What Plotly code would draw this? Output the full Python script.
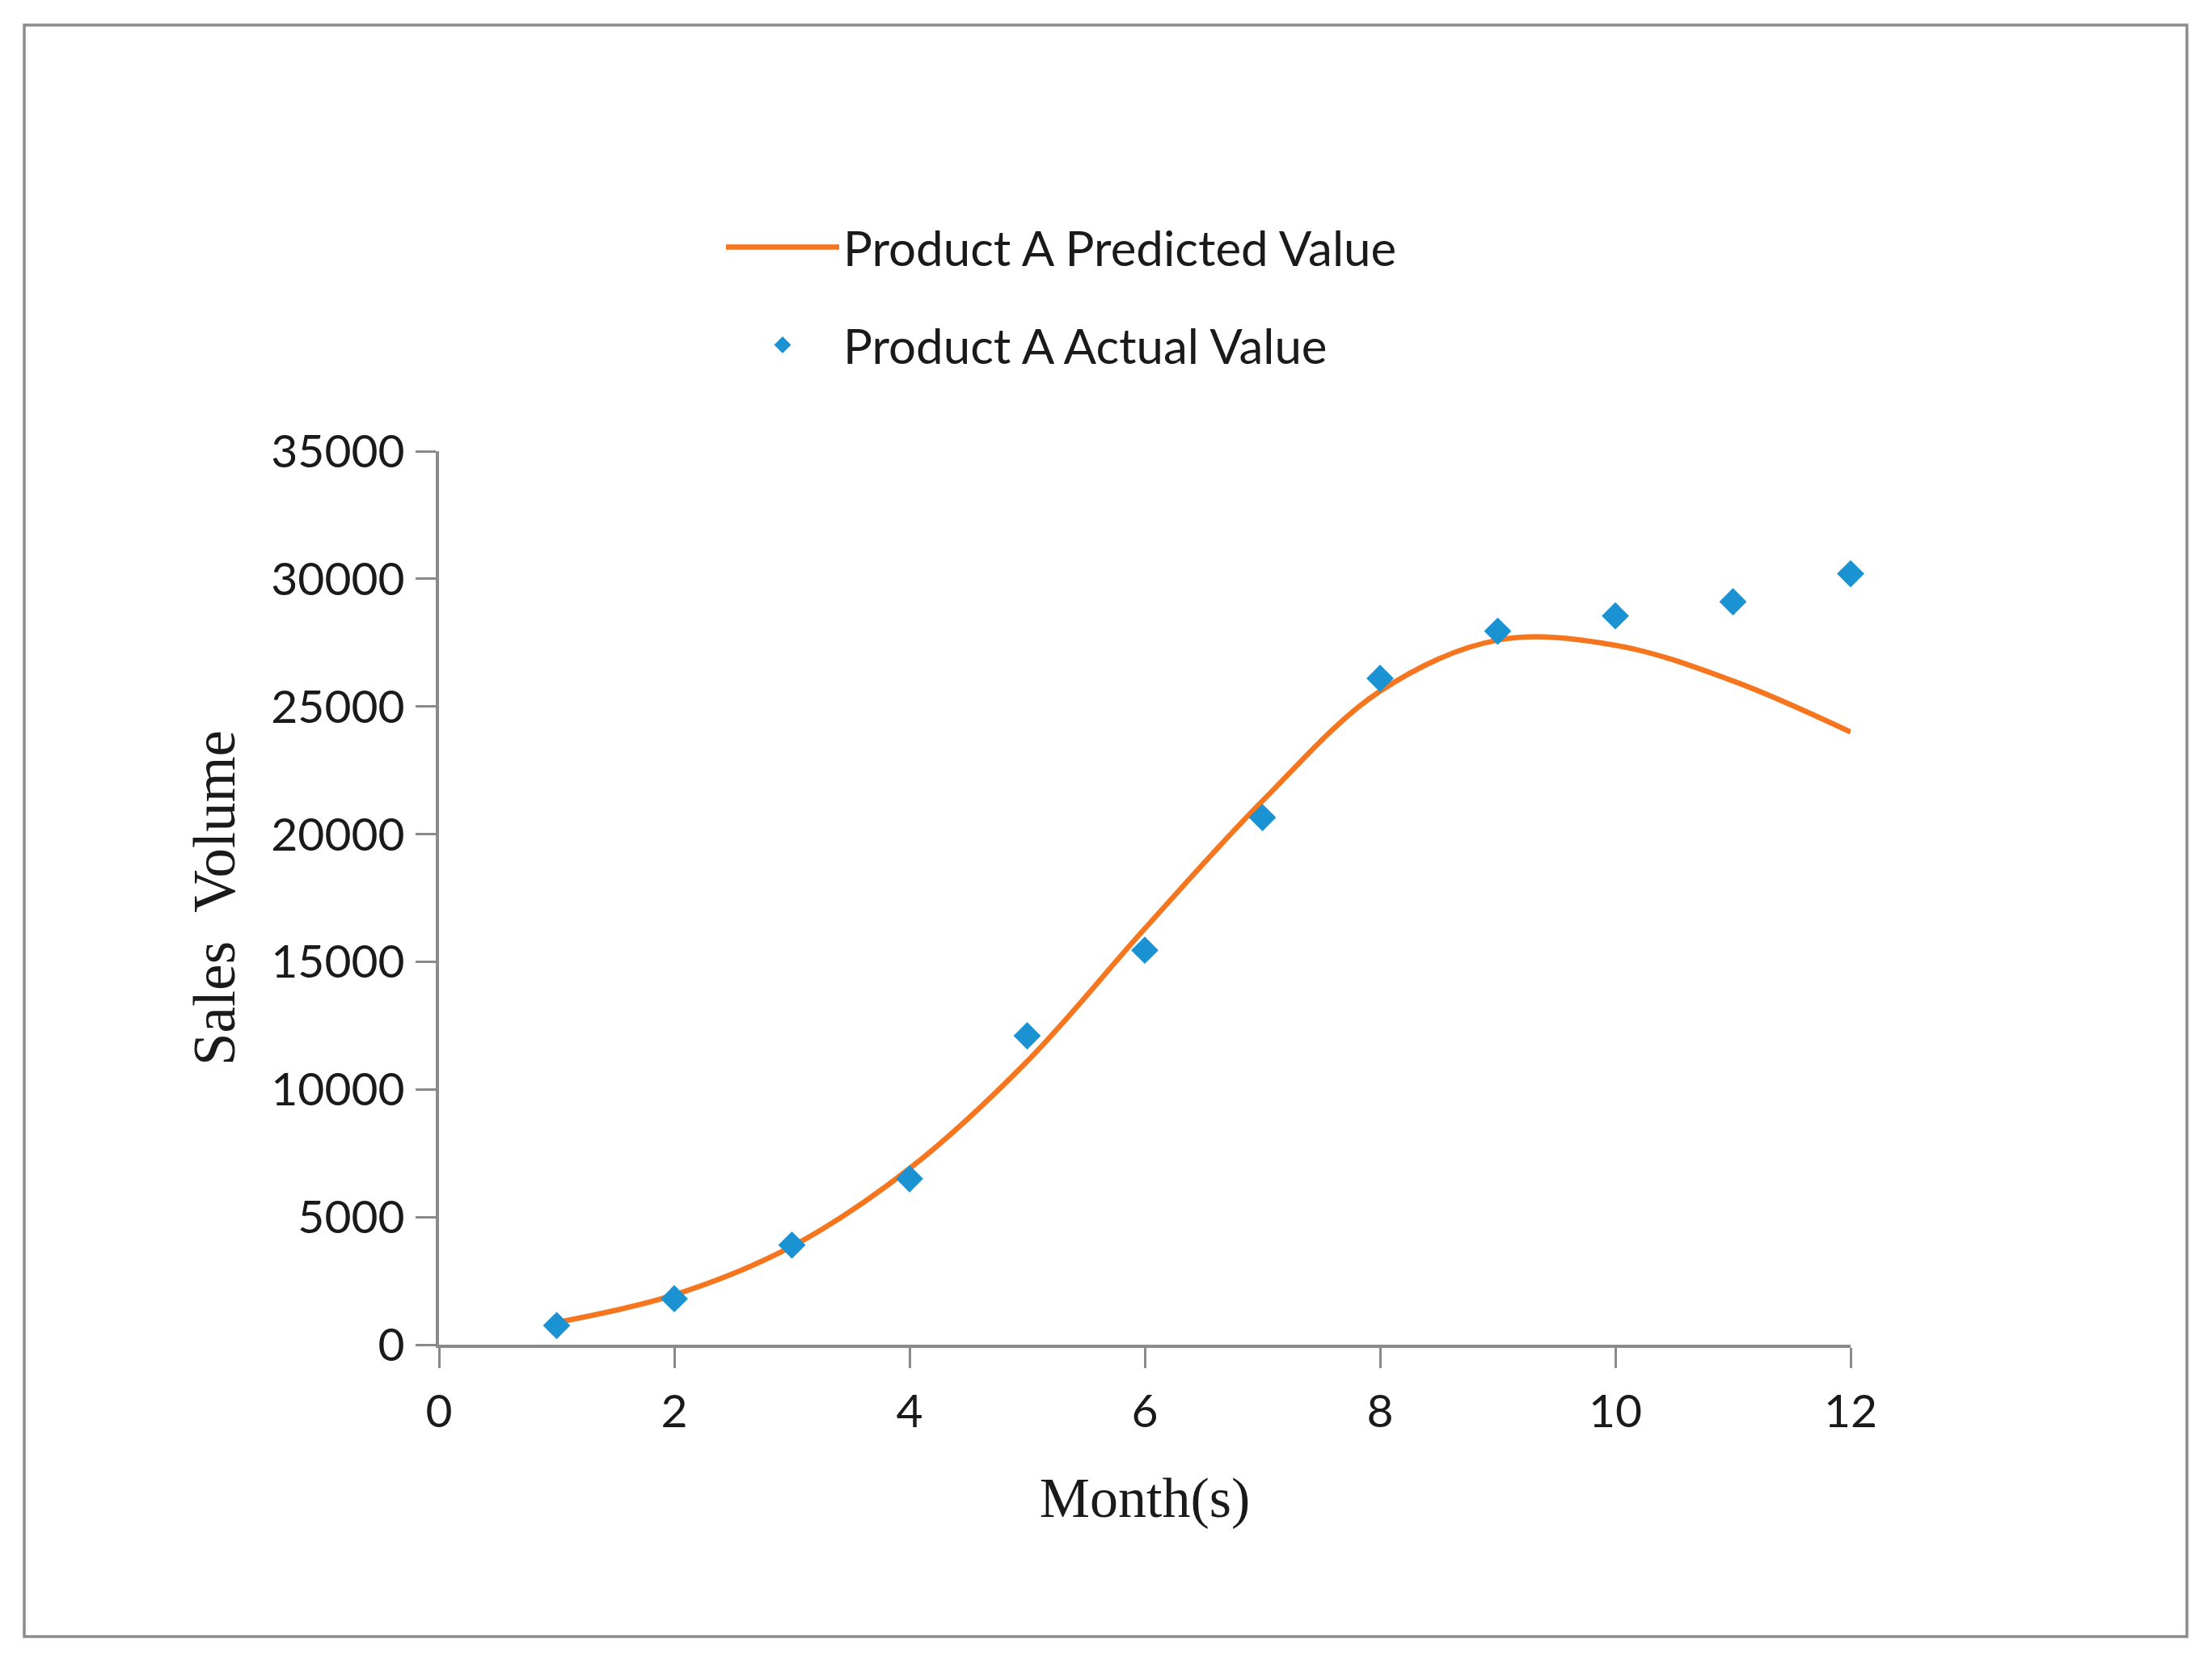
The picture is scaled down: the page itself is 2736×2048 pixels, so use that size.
#!/usr/bin/env python3
# -*- coding:utf-8 -*-

import plotly.graph_objects as go


# month numbers
MONTHS          = [1, 2, 3, 4, 5, 6, 7, 8, 9, 10, 11, 12]
# sales volumes
PREDICTED_SALES = [870, 1950, 3850, 6900, 11100, 16300, 21300, 25600, 27600, 27400, 26000, 24000]
ACTUAL_SALES    = [750, 1800, 3900, 6500, 12100, 15450, 20650, 26100, 27950, 28550, 29100, 30200]

X_TICKS = [0, 2, 4, 6, 8, 10, 12]
Y_TICKS = [0, 5000, 10000, 15000, 20000, 25000, 30000, 35000]

LINE_COLOR   = '#F5761E'
MARKER_COLOR = '#1B93D3'
AXIS_COLOR   = '#8A8A8A'
TEXT_COLOR   = '#1A1A1A'

SANS  = 'Lato, Carlito, Calibri, sans-serif'
SERIF = 'Liberation Serif, Times New Roman, serif'


def GenerateFigure() -> go.Figure:
	width, height = 2736, 2048
	# plot area in page pixels
	left, right, top, bottom = 543, 2289, 558, 1663
	plotW = right - left
	plotH = bottom - top

	fig = go.Figure()

	fig.add_trace(
		go.Scatter(
			x=MONTHS,
			y=PREDICTED_SALES,
			name='Product A Predicted Value',
			mode='lines',
			line=dict(color=LINE_COLOR, width=6.5, shape='spline', smoothing=1.0),
			legendgroup='pred',
		)
	)
	fig.add_trace(
		go.Scatter(
			x=MONTHS,
			y=ACTUAL_SALES,
			name='Product A Actual Value',
			mode='markers',
			marker=dict(symbol='diamond', size=26, color=MARKER_COLOR),
			legendgroup='act',
			cliponaxis=False,
		)
	)

	# frame round the whole chart, in paper units
	fx0 = (30 - left) / plotW
	fx1 = (2705 - left) / plotW
	fy0 = (bottom - 2024) / plotH
	fy1 = (bottom - 31) / plotH

	fig.update_layout(
		width=width,
		height=height,
		margin={ 'l': left, 'r': width - right, 't': top, 'b': height - bottom, 'pad': 0 },
		paper_bgcolor='white',
		plot_bgcolor='white',
		font=dict(family=SANS, size=57, color=TEXT_COLOR),
		showlegend=True,
		legend=dict(
			x=(893 - left) / plotW,
			xanchor='left',
			y=(bottom - 260) / plotH,
			yanchor='top',
			font=dict(family=SANS, size=60, color=TEXT_COLOR),
			itemwidth=140,
			tracegroupgap=40,
			bgcolor='rgba(0,0,0,0)',
		),
		shapes=[
			dict(
				type='rect', xref='paper', yref='paper',
				x0=fx0, x1=fx1, y0=fy0, y1=fy1,
				line=dict(color='#8C8C8C', width=3.5),
				fillcolor='rgba(0,0,0,0)',
				layer='below',
			),
		],
	)

	fig.update_xaxes(
		range=[0, 12],
		tickmode='array',
		tickvals=X_TICKS,
		ticks='outside',
		ticklen=25,
		tickwidth=3,
		tickcolor=AXIS_COLOR,
		ticklabelstandoff=5,
		showline=True,
		linecolor=AXIS_COLOR,
		linewidth=4,
		showgrid=False,
		zeroline=False,
		title=dict(
			text='Month(s)',
			font=dict(family=SERIF, size=70, color=TEXT_COLOR),
			standoff=52,
		),
		automargin=False,
	)
	fig.update_yaxes(
		range=[0, 35000],
		tickmode='array',
		tickvals=Y_TICKS,
		tickformat='d',
		ticks='outside',
		ticklen=25,
		tickwidth=3,
		tickcolor=AXIS_COLOR,
		ticklabelstandoff=2,
		showline=True,
		linecolor=AXIS_COLOR,
		linewidth=4,
		showgrid=False,
		zeroline=False,
		title=dict(
			text='Sales  Volume',
			font=dict(family=SERIF, size=73, color=TEXT_COLOR),
			standoff=22,
		),
		automargin=False,
	)

	return fig


def main() -> None:
	fig = GenerateFigure()
	fig.write_html(
		'out.html',
		config={ 'displayModeBar': False },
		post_script="document.body.style.margin='0';",
	)


if __name__ == '__main__':
	main()
